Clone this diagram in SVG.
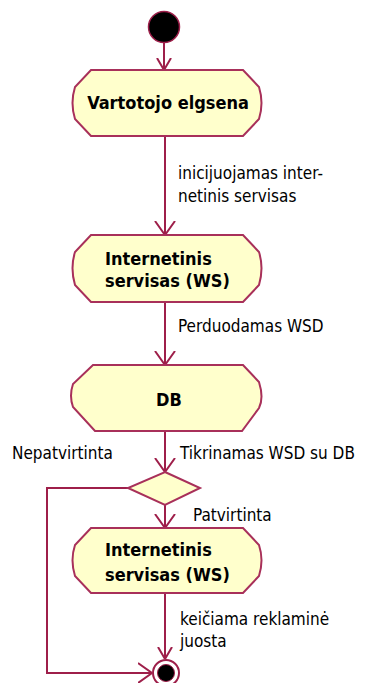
<svg xmlns="http://www.w3.org/2000/svg" width="368" height="683" viewBox="0 0 368 683">
  <style>
    .node { fill: #FFFFCC; stroke: #A8305A; stroke-width: 2; }
    .flow { fill: none; stroke: #9E1F4A; stroke-width: 2; }
    .title { font-family: "DejaVu Sans Condensed", "DejaVu Sans", Verdana, sans-serif; font-size: 18px; font-weight: bold; fill: #000; }
    .label { font-family: "DejaVu Sans Condensed", "DejaVu Sans", Verdana, sans-serif; font-size: 17px; fill: #000; }
  </style>
  <defs>
    <marker id="arrow" viewBox="0 0 14 22" refX="14" refY="11" markerWidth="14" markerHeight="22" markerUnits="userSpaceOnUse" orient="auto">
      <path d="M0,1 L14,11 L0,21" fill="none" stroke="#9E1F4A" stroke-width="2"/>
    </marker>
    <marker id="arrowSmall" viewBox="0 0 12 16" refX="12" refY="8" markerWidth="12" markerHeight="16" markerUnits="userSpaceOnUse" orient="auto">
      <path d="M0,1 L12,8 L0,15" fill="none" stroke="#9E1F4A" stroke-width="2"/>
    </marker>
  </defs>

  <rect width="368" height="683" fill="#FFFFFF"/>

  <!-- connectors -->
  <g id="connectors">
    <line class="flow" x1="164" y1="42" x2="164" y2="70" marker-end="url(#arrowSmall)"/>
    <line class="flow" x1="165" y1="136" x2="165" y2="235" marker-end="url(#arrow)"/>
    <line class="flow" x1="165" y1="302" x2="165" y2="365" marker-end="url(#arrow)"/>
    <line class="flow" x1="165" y1="431" x2="165" y2="472" marker-end="url(#arrow)"/>
    <line class="flow" x1="165" y1="505" x2="165" y2="528" marker-end="url(#arrow)"/>
    <line class="flow" x1="165" y1="593" x2="165" y2="659" marker-end="url(#arrowSmall)"/>
    <polyline class="flow" points="128,488 47,488 47,673 152,673" marker-end="url(#arrow)"/>
  </g>

  <!-- start -->
  <g id="start">
    <circle cx="164" cy="27" r="15.5" fill="#000" stroke="#9E1F4A" stroke-width="1.5"/>
  </g>

  <!-- actions -->
  <g id="vartotojo-elgsena">
    <path class="node" d="M91,70 H243 L259,87 Q264,103 259,119 L243,136 H91 L75,119 Q70,103 75,87 Z"/>
    <text class="title" x="168" y="109" text-anchor="middle">Vartotojo elgsena</text>
  </g>

  <g id="internetinis-servisas-1">
    <path class="node" d="M91,235 H243 L259,252 Q264,268 259,285 L243,302 H91 L75,285 Q70,268 75,252 Z"/>
    <text class="title" x="105" y="265">Internetinis</text>
    <text class="title" x="105" y="287">servisas (WS)</text>
  </g>

  <g id="db">
    <path class="node" d="M93,365 H243 L259,382 Q264,398 259,408 L242,431 H95 L73,407 Q69,396 73,384 Z"/>
    <text class="title" x="169" y="406" text-anchor="middle">DB</text>
  </g>

  <g id="decision">
    <polygon class="node" points="165,472 200,488 165,505 128,488"/>
  </g>

  <g id="internetinis-servisas-2">
    <path class="node" d="M91,528 H243 L259,545 Q264,560 259,576 L243,593 H91 L75,576 Q70,560 75,545 Z"/>
    <text class="title" x="105" y="556">Internetinis</text>
    <text class="title" x="105" y="581">servisas (WS)</text>
  </g>

  <!-- end -->
  <g id="end">
    <circle cx="166" cy="673" r="13" fill="#FFFFFF" stroke="#9E1F4A" stroke-width="2"/>
    <circle cx="166" cy="673" r="8.5" fill="#000" stroke="#9E1F4A" stroke-width="1"/>
  </g>

  <!-- connector labels -->
  <g id="labels">
    <text class="label" x="178" y="179">inicijuojamas inter-</text>
    <text class="label" x="178" y="202">netinis servisas</text>
    <text class="label" x="178" y="332">Perduodamas WSD</text>
    <text class="label" x="12" y="459">Nepatvirtinta</text>
    <text class="label" x="180" y="459">Tikrinamas WSD su DB</text>
    <text class="label" x="193" y="521">Patvirtinta</text>
    <text class="label" x="180" y="625">keičiama reklaminė</text>
    <text class="label" x="180" y="647">juosta</text>
  </g>
</svg>
